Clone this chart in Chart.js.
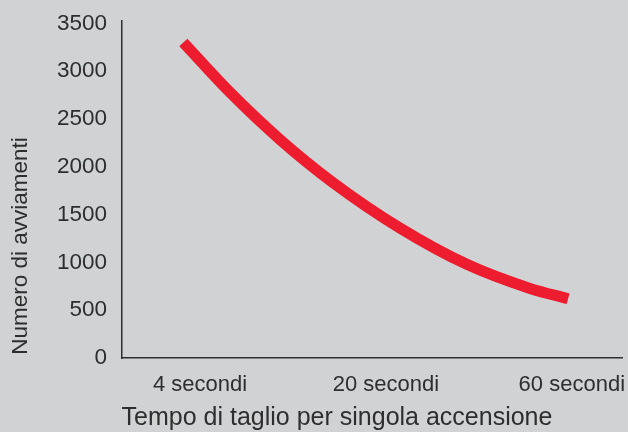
<!DOCTYPE html>
<html>
<head>
<meta charset="utf-8">
<script src="https://cdn.jsdelivr.net/npm/chart.js@4.4.0/dist/chart.umd.min.js"></script>
<style>
  html, body { margin: 0; padding: 0; background: #d1d2d4; }
  #wrap { width: 628px; height: 432px; }
</style>
</head>
<body>
<div id="wrap"><canvas id="chart-1" width="628" height="432"></canvas></div>
<script>
// tick labels on the x axis and where they sit (1, 2, 3)
const xLabels = ['4 secondi', '20 secondi', '60 secondi'];
const xTickPos = [1, 2, 3];
const yTicks = [0, 500, 1000, 1500, 2000, 2500, 3000, 3500];

// points
const curveX = [0.91, 1.16, 1.43, 1.715, 2.075, 2.435, 2.775, 2.98];
const curveY = [3300, 2780, 2285, 1835, 1360, 980, 728, 620];

const yTitle = 'Numero di avviamenti';
const xTitle = 'Tempo di taglio per singola accensione';

const FONT = '"Liberation Sans", Arial, sans-serif';
const TEXT = '#2e2e2e';

const titles = {
  id: 'titles',
  afterDraw(chart) {
    const ctx = chart.ctx;
    ctx.save();
    ctx.fillStyle = TEXT;
    ctx.textAlign = 'center';
    ctx.textBaseline = 'middle';
    ctx.font = '25px ' + FONT;
    ctx.fillText(xTitle, 337, 418);
    ctx.font = '22.5px ' + FONT;
    ctx.translate(21, 246);
    ctx.rotate(-Math.PI / 2);
    ctx.fillText(yTitle, 0, 0);
    ctx.restore();
  }
};

function noPad(scale) {
  scale.paddingLeft = 0;
  scale.paddingRight = 0;
  scale.paddingTop = 0;
  scale.paddingBottom = 0;
}

function initGraph() {
  const ctx = document.getElementById('chart-1');
  new Chart(ctx, {
    type: 'line',
    data: {
      datasets: [{
        data: curveX.map((x, i) => ({x: x, y: curveY[i]})),
        borderColor: '#ed1c2e',
        borderWidth: 11,
        borderCapStyle: 'butt',
        pointRadius: 0,
        cubicInterpolationMode: 'monotone',
        fill: false
      }]
    },
    options: {
      responsive: false,
      animation: false,
      layout: { padding: { top: 21, right: 6, left: 0, bottom: 0 } },
      plugins: { legend: { display: false }, tooltip: { enabled: false } },
      scales: {
        x: {
          type: 'linear',
          min: 0.58,
          max: 3.27,
          grid: { display: false, drawTicks: false },
          border: { display: true, color: TEXT, width: 1.5 },
          afterBuildTicks: function(scale) {
            scale.ticks = xTickPos.map(v => ({value: v}));
          },
          afterFit: function(scale) { scale.height = 74; noPad(scale); },
          ticks: {
            color: TEXT,
            font: { family: FONT, size: 22 },
            padding: 14,
            maxRotation: 0,
            callback: function(value) {
              return xLabels[xTickPos.indexOf(value)];
            }
          }
        },
        y: {
          min: 0,
          max: 3525,
          grid: { display: false, drawTicks: false },
          border: { display: true, color: TEXT, width: 1.5 },
          afterBuildTicks: function(scale) {
            scale.ticks = yTicks.map(v => ({value: v}));
          },
          afterFit: function(scale) { scale.width = 122; noPad(scale); },
          ticks: {
            color: TEXT,
            font: { family: FONT, size: 22.5 },
            padding: 15,
            callback: function(value) { return String(value); }
          }
        }
      }
    },
    plugins: [titles]
  });
}

initGraph();
</script>
</body>
</html>
